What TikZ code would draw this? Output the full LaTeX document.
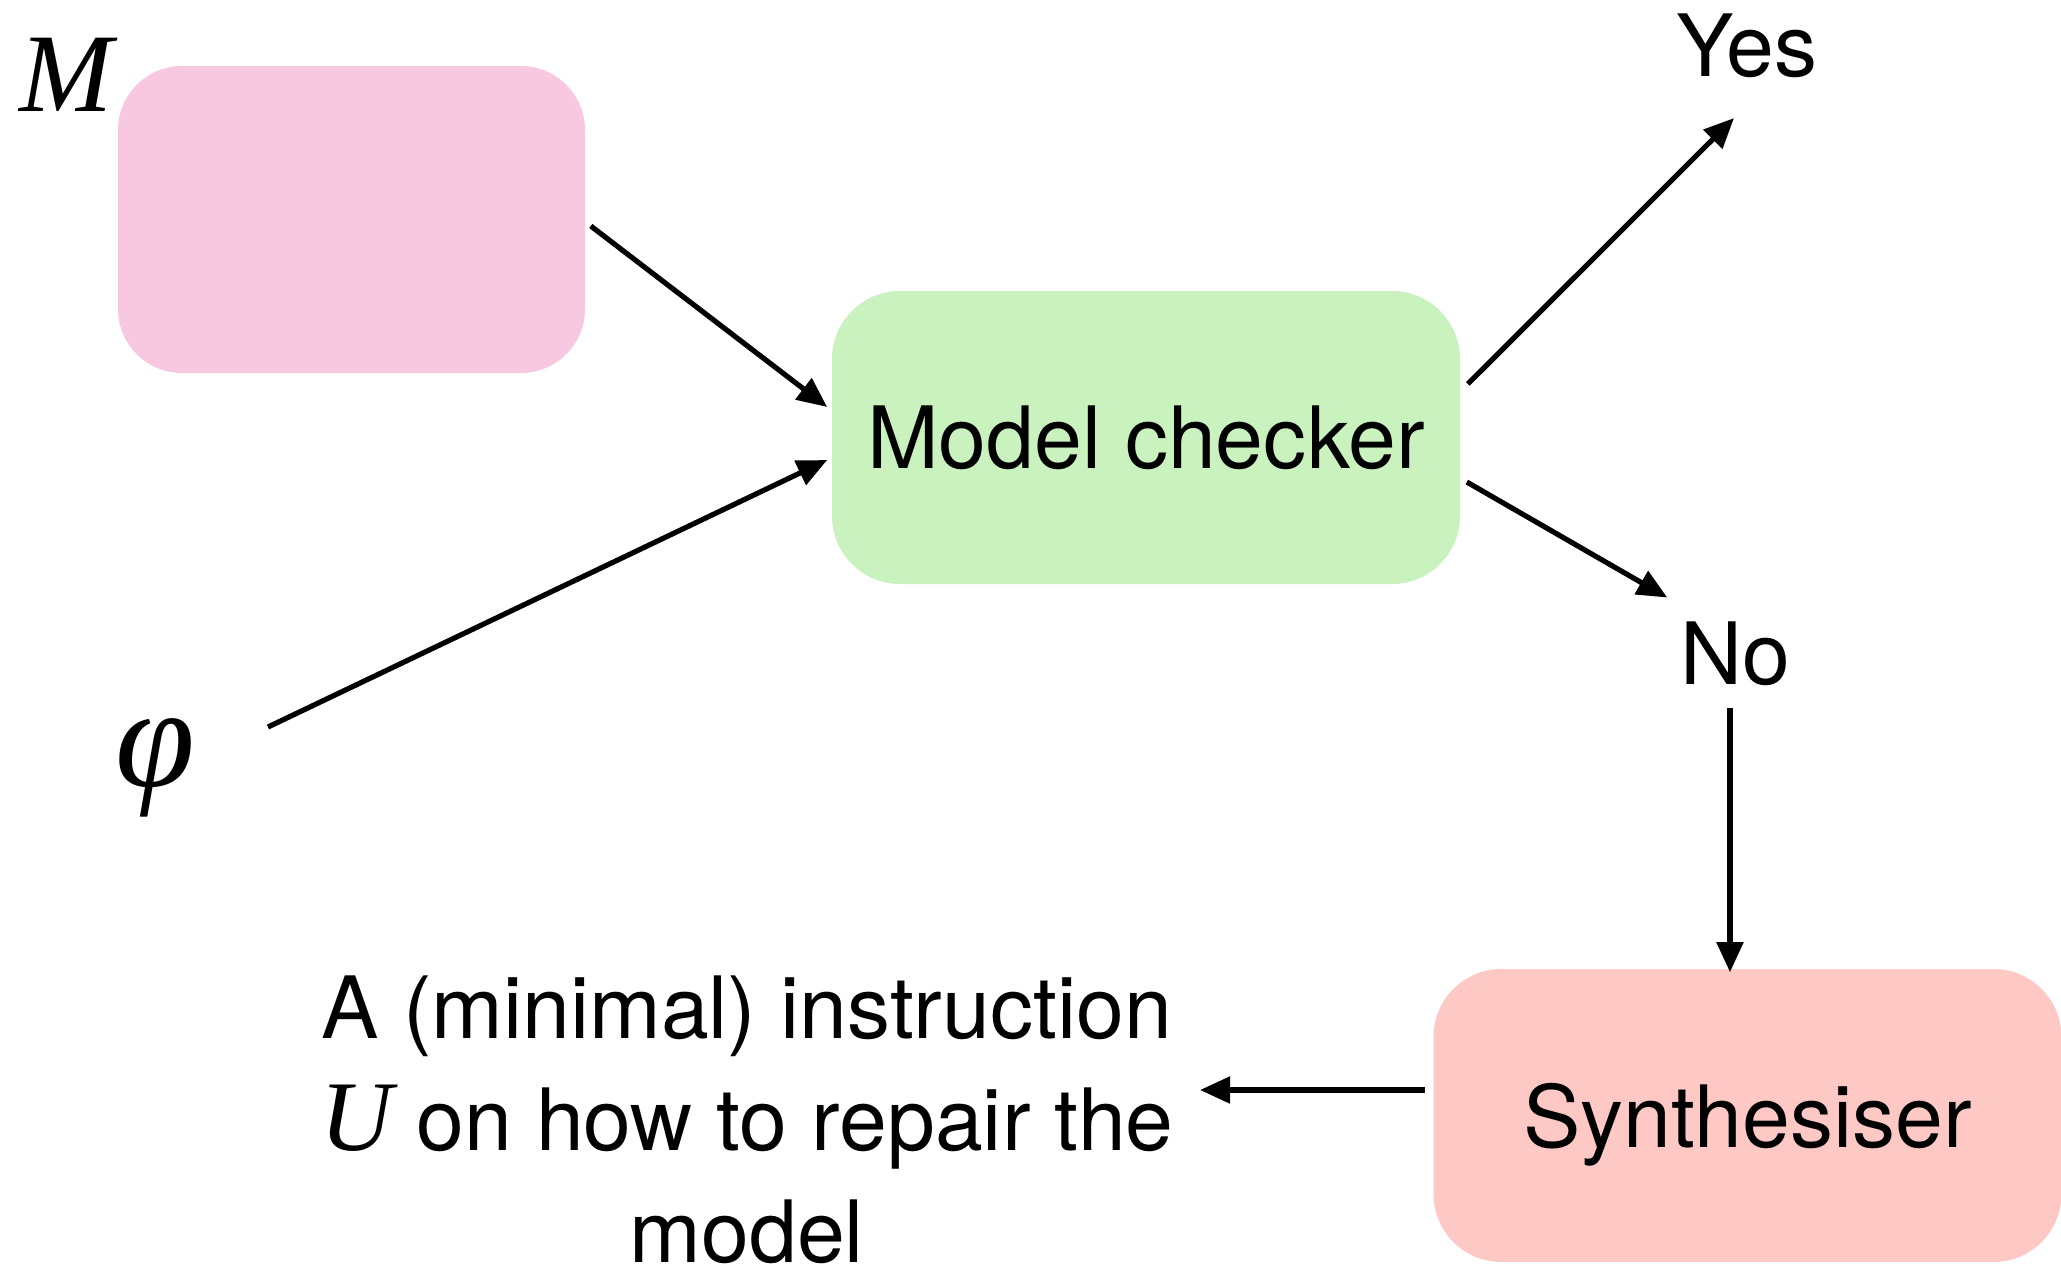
\documentclass[tikz,border=0pt]{standalone}
\usepackage{fontspec}
\setmainfont{TeX Gyre Heros}
\newfontfamily\timesf{Liberation Serif}
\usetikzlibrary{arrows.meta}
\definecolor{pinkbox}{HTML}{F8C8E1}
\definecolor{greenbox}{HTML}{C9F2BE}
\definecolor{synthbox}{HTML}{FEC9C5}
\begin{document}
\begin{tikzpicture}[x=0.25pt,y=-0.25pt,
  box/.style={rounded corners=17pt, inner sep=0pt, text depth=0pt,
    minimum width=157pt, minimum height=73.25pt,
    font=\fontsize{21.5}{29.25}\selectfont},
  lbl/.style={inner sep=0pt, font=\fontsize{21.5}{28}\selectfont},
  conn/.style={line width=1.3pt, -{Triangle[length=7.5pt,width=6.5pt]}}]
\useasboundingbox (0,0) rectangle (2061,1264);
% boxes
\node[box, fill=pinkbox, minimum width=116.75pt, minimum height=76.75pt, rounded corners=16pt] (model) at (351.5,219.5) {};
\node[box, fill=greenbox] (mc) at (1146,437.5) {Model checker};
\node[box, fill=synthbox] (synth) at (1747.5,1115.5) {Synthesiser};
% labels
\node[inner sep=0pt, font=\timesf\itshape\fontsize{28}{30}\selectfont] (M) at (66,75) {M};
\node[inner sep=0pt, font=\timesf\itshape\fontsize{36}{40}\selectfont] (phi) at (155,768) {φ};
\node[lbl, anchor=base] (yes) at (1747,76) {Yes};
\node[lbl, anchor=base] (no) at (1735,684) {No};
\node[lbl, align=center, anchor=base] (instr) at (747,1262)
  {A (minimal) instruction\\{\timesf\itshape\fontsize{25}{28}\selectfont U} on how to repair the\\model};
% connectors
\draw[conn] ([shift={(5,6.5)}]model.east) -- ([shift={(-4,-30.5)}]mc.west);
\draw[conn] ([shift={(113,-41)}]phi.center) -- ([shift={(-4,22.5)}]mc.west);
\draw[conn] ([shift={(7,-53.5)}]mc.east) -- ([shift={(-13,40)}]yes.south);
\draw[conn] ([shift={(6,44.5)}]mc.east) -- ([shift={(-12,-23)}]no.north west);
\draw[conn] ([shift={(-5,22)}]no.south) -- ([shift={(-17.5,4)}]synth.north);
\draw[conn] ([shift={(-8,-25.5)}]synth.west) coordinate (s6) -- (s6 -| 1200,0);
\end{tikzpicture}
\end{document}
